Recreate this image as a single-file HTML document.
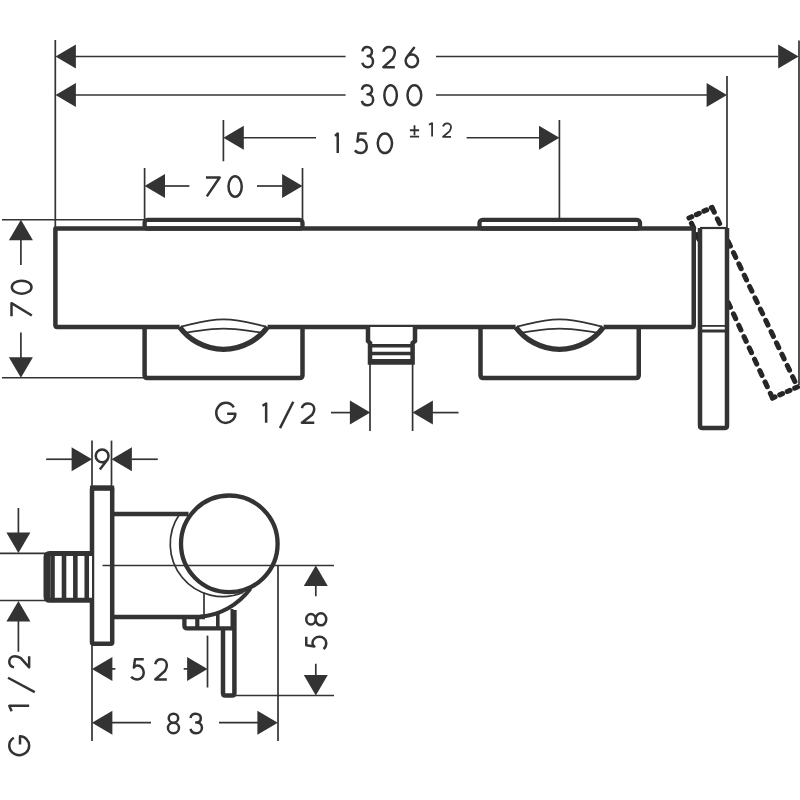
<!DOCTYPE html>
<html><head><meta charset="utf-8"><style>
html,body{margin:0;padding:0;background:#fff;width:800px;height:800px;overflow:hidden}
svg{display:block}
</style></head><body>
<svg width="800" height="800" viewBox="0 0 800 800">
<rect width="800" height="800" fill="#fff"/>
<g stroke="#333" fill="none" stroke-linecap="butt">
<line x1="55.3" y1="40" x2="55.3" y2="228" stroke-width="1.7"/>
<line x1="799" y1="40.5" x2="799" y2="385" stroke-width="1.7"/>
<line x1="727" y1="76" x2="727" y2="228" stroke-width="1.7"/>
<polygon points="55.50,56.50 75.90,44.50 75.90,68.50" fill="#333" stroke="none"/>
<polygon points="798.60,56.50 778.20,44.50 778.20,68.50" fill="#333" stroke="none"/>
<line x1="75" y1="56.5" x2="345.6" y2="56.5" stroke-width="1.7"/>
<line x1="436" y1="56.5" x2="778" y2="56.5" stroke-width="1.7"/>
<polygon points="55.50,95.00 75.90,83.00 75.90,107.00" fill="#333" stroke="none"/>
<polygon points="727.00,95.00 706.60,83.00 706.60,107.00" fill="#333" stroke="none"/>
<line x1="75" y1="95.0" x2="345.6" y2="95.0" stroke-width="1.7"/>
<line x1="436" y1="95.0" x2="707" y2="95.0" stroke-width="1.7"/>
<line x1="223.4" y1="120" x2="223.4" y2="161.25" stroke-width="1.7"/>
<line x1="559.4" y1="120" x2="559.4" y2="220" stroke-width="1.7"/>
<polygon points="223.40,137.75 243.80,125.75 243.80,149.75" fill="#333" stroke="none"/>
<polygon points="559.40,137.75 539.00,125.75 539.00,149.75" fill="#333" stroke="none"/>
<line x1="243" y1="137.75" x2="316" y2="137.75" stroke-width="1.7"/>
<line x1="466.6" y1="137.75" x2="540" y2="137.75" stroke-width="1.7"/>
<line x1="144.6" y1="168" x2="144.6" y2="220" stroke-width="1.7"/>
<line x1="302.5" y1="168" x2="302.5" y2="220" stroke-width="1.7"/>
<polygon points="144.60,186.00 165.00,174.00 165.00,198.00" fill="#333" stroke="none"/>
<polygon points="302.50,186.00 282.10,174.00 282.10,198.00" fill="#333" stroke="none"/>
<line x1="164" y1="186" x2="189.4" y2="186" stroke-width="1.7"/>
<line x1="257" y1="186" x2="283" y2="186" stroke-width="1.7"/>
<line x1="2" y1="219.75" x2="145" y2="219.75" stroke-width="1.7"/>
<line x1="2" y1="377.75" x2="145" y2="377.75" stroke-width="1.7"/>
<polygon points="20.90,219.75 8.90,240.15 32.90,240.15" fill="#333" stroke="none"/>
<polygon points="20.90,377.75 8.90,357.35 32.90,357.35" fill="#333" stroke="none"/>
<line x1="20.9" y1="239" x2="20.9" y2="265" stroke-width="1.7"/>
<line x1="20.9" y1="332.5" x2="20.9" y2="358" stroke-width="1.7"/>
<line x1="689" y1="218" x2="712" y2="207.5" stroke="#262626" stroke-width="5.1" stroke-dasharray="3 5.2" stroke-linecap="round"/>
<line x1="712" y1="207.5" x2="797.5" y2="387" stroke="#262626" stroke-width="5.1" stroke-dasharray="5.2 7.3" stroke-linecap="round"/>
<line x1="797.5" y1="387" x2="772.5" y2="398" stroke="#262626" stroke-width="5.1" stroke-dasharray="3 5.2" stroke-linecap="round"/>
<line x1="772.5" y1="398" x2="689" y2="218" stroke="#262626" stroke-width="5.1" stroke-dasharray="5.2 7.3" stroke-linecap="round"/>
<rect x="55.4" y="228.5" width="638.35" height="98.6" rx="2" fill="#fff" stroke="none"/>
<rect x="700" y="228" width="27" height="200" fill="#fff" stroke="none"/>
<path d="M700,228 L700,425.5 Q700,428 702.5,428 L724.5,428 Q727,428 727,425.5 L727,228" fill="none" stroke-width="4.5"/>
<line x1="700" y1="228" x2="727" y2="228" stroke-width="2.2"/>
<line x1="700" y1="325.9" x2="727" y2="325.9" stroke-width="1.8"/>
<line x1="700" y1="331" x2="727" y2="331" stroke-width="3"/>
<rect x="144.6" y="219.8" width="157.9" height="8.7" rx="3" fill="#fff" stroke-width="4.3"/>
<rect x="479.5" y="219.8" width="160.5" height="8.7" rx="3" fill="#fff" stroke-width="4.3"/>
<path d="M144.6,327 L144.6,375 Q144.6,378 147.6,378 L299.5,378 Q302.5,378 302.5,375 L302.5,327" fill="#fff" stroke-width="4.5"/>
<path d="M480.5,327 L480.5,375 Q480.5,378 483.5,378 L635.75,378 Q638.75,378 638.75,375 L638.75,327" fill="#fff" stroke-width="4.5"/>
<path d="M603.6,326.9 L691.75,326.9 Q693.75,326.9 693.75,324.9 L693.75,228.5 L55.4,228.5 L55.4,324.9 Q55.4,326.9 57.4,326.9 L179.6,326.9" fill="none" stroke-width="4.5" stroke-linejoin="round"/>
<line x1="267.6" y1="326.9" x2="515.6" y2="326.9" stroke-width="4.5"/>
<path d="M179.6,327 A54.5,54.5 0 0,0 267.6,327" fill="#fff" stroke-width="5.4"/>
<path d="M181.1,326.6 C192.6,324.5 204.6,319.4 223.6,319.4 C242.6,319.4 254.6,324.5 266.1,326.6" fill="none" stroke-width="1.7"/>
<path d="M185.6,332.6 C197.6,331.5 207.6,328.6 223.6,328.6 C239.6,328.6 249.6,331.5 261.6,332.6" fill="none" stroke-width="1.7"/>
<path d="M515.6,327 A54.5,54.5 0 0,0 603.6,327" fill="#fff" stroke-width="5.4"/>
<path d="M517.1,326.6 C528.6,324.5 540.6,319.4 559.6,319.4 C578.6,319.4 590.6,324.5 602.1,326.6" fill="none" stroke-width="1.7"/>
<path d="M521.6,332.6 C533.6,331.5 543.6,328.6 559.6,328.6 C575.6,328.6 585.6,331.5 597.6,332.6" fill="none" stroke-width="1.7"/>
<path d="M368,327 L368,341 L370,343 L370,362.5 L412.6,362.5 L412.6,343 L415,341 L415,327" fill="#fff" stroke-width="4.5"/>
<line x1="370" y1="345.8" x2="412.6" y2="345.8" stroke-width="3.4"/>
<line x1="370" y1="353.5" x2="412.6" y2="353.5" stroke-width="3.6"/>
<line x1="370" y1="361" x2="412.6" y2="361" stroke-width="4"/>
<line x1="370" y1="364" x2="370" y2="431" stroke-width="1.7"/>
<line x1="412.6" y1="364" x2="412.6" y2="431" stroke-width="1.7"/>
<polygon points="370.30,412.60 349.90,400.60 349.90,424.60" fill="#333" stroke="none"/>
<polygon points="412.50,412.60 432.90,400.60 432.90,424.60" fill="#333" stroke="none"/>
<line x1="331" y1="412.6" x2="350.3" y2="412.6" stroke-width="1.7"/>
<line x1="432.5" y1="412.6" x2="458.5" y2="412.6" stroke-width="1.7"/>
<line x1="92" y1="440.6" x2="92" y2="486" stroke-width="1.7"/>
<line x1="111.5" y1="440.6" x2="111.5" y2="486" stroke-width="1.7"/>
<polygon points="92.00,459.25 71.60,447.25 71.60,471.25" fill="#333" stroke="none"/>
<polygon points="111.50,459.25 131.90,447.25 131.90,471.25" fill="#333" stroke="none"/>
<line x1="46.2" y1="459.25" x2="72" y2="459.25" stroke-width="1.7"/>
<line x1="131.5" y1="459.25" x2="157.8" y2="459.25" stroke-width="1.7"/>
<rect x="92" y="487.8" width="20.2" height="155.95" rx="1.5" fill="#fff" stroke-width="4.5"/>
<line x1="90" y1="488.2" x2="114.2" y2="488.2" stroke-width="5.2"/>
<path d="M92,553.6 L49.8,553.6 Q46,553.6 46,557.4 L46,596.4 Q46,600.2 49.8,600.2 L92,600.2" fill="#fff" stroke-width="5"/>
<line x1="48.4" y1="554" x2="48.4" y2="600" stroke-width="3.2"/>
<line x1="52.5" y1="553.6" x2="52.5" y2="600.2" stroke-width="4.6"/>
<line x1="64" y1="553.6" x2="64" y2="600.2" stroke-width="4.6"/>
<line x1="75.35" y1="553.6" x2="75.35" y2="600.2" stroke-width="4.6"/>
<line x1="86.75" y1="553.6" x2="86.75" y2="600.2" stroke-width="4.6"/>
<line x1="0" y1="553.4" x2="45" y2="553.4" stroke-width="1.7"/>
<line x1="0" y1="600.5" x2="45" y2="600.5" stroke-width="1.7"/>
<line x1="18.4" y1="508" x2="18.4" y2="533" stroke-width="1.7"/>
<polygon points="18.40,553.00 6.40,532.60 30.40,532.60" fill="#333" stroke="none"/>
<polygon points="18.40,601.00 6.40,621.40 30.40,621.40" fill="#333" stroke="none"/>
<line x1="18.4" y1="620" x2="18.4" y2="651.75" stroke-width="1.7"/>
<line x1="112" y1="514" x2="188.5" y2="514" stroke-width="4.5"/>
<line x1="112" y1="617" x2="205" y2="617" stroke-width="4.5"/>
<line x1="102.5" y1="565.5" x2="334" y2="565.5" stroke-width="1.7"/>
<path d="M179.7,514 A52.5,52.5 0 0,0 243.5,592.3" fill="none" stroke-width="1.7"/>
<line x1="204" y1="592.5" x2="204" y2="615.5" stroke-width="1.7"/>
<circle cx="229.3" cy="543.8" r="48.3" fill="none" stroke-width="4.3"/>
<path d="M200,616.8 C220,615.5 238,605 250.5,588.5" fill="none" stroke-width="4"/>
<path d="M184.4,617 L184.4,625.5 Q184.4,628.3 187.2,628.3 L234.4,628.3" fill="none" stroke-width="4.3"/>
<line x1="197.3" y1="617" x2="197.3" y2="628" stroke-width="4.2"/>
<line x1="217.8" y1="613" x2="217.8" y2="628" stroke-width="3.6"/>
<line x1="232" y1="609" x2="232" y2="628" stroke-width="3"/>
<path d="M223,628 L223,693 Q223,695.6 225.5,695.6 L232,695.6 Q234.4,695.6 234.4,693 L234.4,610" fill="none" stroke-width="4.5"/>
<line x1="278" y1="565" x2="278" y2="741" stroke-width="1.7"/>
<line x1="234" y1="695.5" x2="334" y2="695.5" stroke-width="1.7"/>
<line x1="207.5" y1="635.6" x2="207.5" y2="687.5" stroke-width="1.7"/>
<line x1="92" y1="644" x2="92" y2="741" stroke-width="1.7"/>
<polygon points="315.80,565.50 303.80,585.90 327.80,585.90" fill="#333" stroke="none"/>
<line x1="315.8" y1="585" x2="315.8" y2="596.25" stroke-width="1.7"/>
<line x1="315.8" y1="663.75" x2="315.8" y2="676" stroke-width="1.7"/>
<polygon points="315.80,695.50 303.80,675.10 327.80,675.10" fill="#333" stroke="none"/>
<polygon points="92.00,668.90 112.40,656.90 112.40,680.90" fill="#333" stroke="none"/>
<line x1="112" y1="668.9" x2="115.4" y2="668.9" stroke-width="1.7"/>
<line x1="183.7" y1="668.9" x2="188" y2="668.9" stroke-width="1.7"/>
<polygon points="207.50,668.90 187.10,656.90 187.10,680.90" fill="#333" stroke="none"/>
<polygon points="92.00,722.70 112.40,710.70 112.40,734.70" fill="#333" stroke="none"/>
<line x1="112" y1="722.7" x2="151" y2="722.7" stroke-width="1.7"/>
<line x1="219" y1="722.7" x2="258" y2="722.7" stroke-width="1.7"/>
<polygon points="277.80,722.70 257.40,710.70 257.40,734.70" fill="#333" stroke="none"/>
</g>
<g fill="none" stroke="#333" stroke-linecap="butt" stroke-linejoin="round"><path d="M362.35,51.39 C362.88,48.57 364.48,46.95 367.14,46.95 C370.02,46.95 371.94,49.17 371.94,51.60 C371.94,54.22 370.34,56.04 367.68,56.04 C370.87,56.04 373.00,58.46 373.00,61.49 C373.00,64.73 370.87,67.15 367.68,67.15 C364.91,67.15 362.99,65.33 362.35,62.71" stroke-width="2.5"/>
<path d="M383.35,51.80 C384.04,48.57 386.34,46.95 389.10,46.95 C392.09,46.95 394.85,49.17 394.85,52.61 C394.85,55.03 394.05,56.85 392.90,58.67 L383.35,67.15 L394.85,67.15" stroke-width="2.5"/>
<path d="M414.58,46.95 L406.64,57.45 M411.85,54.55 C415.27,54.55 418.05,57.37 418.05,60.85 C418.05,64.33 415.27,67.15 411.85,67.15 C408.43,67.15 405.65,64.33 405.65,60.85 C405.65,57.37 408.43,54.55 411.85,54.55 Z" stroke-width="2.5"/>
<path d="M361.85,89.65 C362.42,86.85 364.11,85.25 366.94,85.25 C369.99,85.25 372.02,87.45 372.02,89.85 C372.02,92.45 370.32,94.25 367.50,94.25 C370.89,94.25 373.15,96.65 373.15,99.65 C373.15,102.85 370.89,105.25 367.50,105.25 C364.56,105.25 362.53,103.45 361.85,100.85" stroke-width="2.5"/>
<path d="M390.60,85.25 C394.05,85.25 396.85,89.73 396.85,95.25 C396.85,100.77 394.05,105.25 390.60,105.25 C387.15,105.25 384.35,100.77 384.35,95.25 C384.35,89.73 387.15,85.25 390.60,85.25 Z" stroke-width="2.5"/>
<path d="M414.38,85.25 C418.17,85.25 421.25,89.73 421.25,95.25 C421.25,100.77 418.17,105.25 414.38,105.25 C410.58,105.25 407.50,100.77 407.50,95.25 C407.50,89.73 410.58,85.25 414.38,85.25 Z" stroke-width="2.5"/>
<path d="M335.05,135.89 L337.75,133.55 L337.75,153.05" stroke-width="2.5"/>
<path d="M366.75,133.55 L358.49,133.55 L357.43,141.55 C358.25,140.18 359.43,139.59 360.85,139.59 C364.15,139.59 366.75,142.52 366.75,146.42 C366.75,150.12 364.15,153.05 360.85,153.05 C358.49,153.05 356.13,152.08 354.95,150.32" stroke-width="2.5"/>
<path d="M384.90,133.55 C388.85,133.55 392.05,137.92 392.05,143.30 C392.05,148.68 388.85,153.05 384.90,153.05 C380.95,153.05 377.75,148.68 377.75,143.30 C377.75,137.92 380.95,133.55 384.90,133.55 Z" stroke-width="2.5"/>
<path d="M409.90,130.23 L419.10,130.23 M414.50,125.15 L414.50,135.31 M409.90,136.70 L419.10,136.70" stroke-width="1.8"/>
<path d="M428.90,124.72 L432.10,123.10 L432.10,136.60" stroke-width="1.8"/>
<path d="M443.10,126.54 C443.57,124.38 445.15,123.30 447.05,123.30 C449.10,123.30 451.00,124.79 451.00,127.08 C451.00,128.70 450.45,129.91 449.66,131.13 L443.10,136.80 L451.00,136.80" stroke-width="1.8"/>
<path d="M206.00,177.50 L219.65,177.50 L206.82,196.35" stroke-width="2.5"/>
<path d="M235.12,176.35 C238.78,176.35 241.75,180.92 241.75,186.55 C241.75,192.18 238.78,196.75 235.12,196.75 C231.47,196.75 228.50,192.18 228.50,186.55 C228.50,180.92 231.47,176.35 235.12,176.35 Z" stroke-width="2.5"/>
<path d="M11.85,287.20 C11.85,283.58 16.25,280.65 21.67,280.65 C27.10,280.65 31.50,283.58 31.50,287.20 C31.50,290.82 27.10,293.75 21.67,293.75 C16.25,293.75 11.85,290.82 11.85,287.20 Z" stroke-width="2.5"/>
<path d="M11.50,316.25 L11.50,303.15 L31.85,315.46" stroke-width="2.5"/>
<path d="M233.82,407.47 C232.08,404.62 229.03,402.85 225.80,402.85 C220.53,402.85 216.25,407.35 216.25,412.90 C216.25,418.45 220.53,422.95 225.80,422.95 C231.07,422.95 235.35,418.73 235.35,413.70 L227.14,413.70" stroke-width="2.5"/>
<path d="M262.50,405.82 L266.15,403.50 L266.15,422.85" stroke-width="2.5"/>
<path d="M280.00,428.15 L293.25,401.75" stroke-width="2.5"/>
<path d="M301.85,408.14 C302.59,405.05 305.07,403.50 308.05,403.50 C311.27,403.50 314.25,405.63 314.25,408.92 C314.25,411.24 313.38,412.98 312.14,414.72 L301.85,422.85 L314.25,422.85" stroke-width="2.5"/>
<path d="M102.12,449.50 C105.65,449.50 108.50,452.37 108.50,455.90 C108.50,459.43 105.65,462.30 102.12,462.30 C98.60,462.30 95.75,459.43 95.75,455.90 C95.75,452.37 98.60,449.50 102.12,449.50 Z M107.99,459.10 L99.83,469.50" stroke-width="2.5"/>
<path d="M13.83,737.76 C11.00,739.48 9.25,742.51 9.25,745.70 C9.25,750.92 13.71,755.15 19.20,755.15 C24.69,755.15 29.15,750.92 29.15,745.70 C29.15,740.48 24.97,736.25 20.00,736.25 L20.00,744.38" stroke-width="2.5"/>
<path d="M11.64,711.25 L9.25,705.85 L29.15,705.85" stroke-width="2.5"/>
<path d="M34.75,692.15 L8.00,677.75" stroke-width="2.5"/>
<path d="M14.03,667.35 C10.84,666.68 9.25,664.46 9.25,661.80 C9.25,658.91 11.44,656.25 14.82,656.25 C17.21,656.25 19.00,657.03 20.79,658.14 L29.15,667.35 L29.15,656.25" stroke-width="2.5"/>
<path d="M306.25,636.85 L306.25,645.36 L314.45,646.45 C313.05,645.60 312.45,644.38 312.45,642.92 C312.45,639.52 315.45,636.85 319.45,636.85 C323.25,636.85 326.25,639.52 326.25,642.92 C326.25,645.36 325.25,647.78 323.45,649.00" stroke-width="2.5"/>
<path d="M306.25,619.30 C306.25,616.43 308.35,614.10 310.95,614.10 C313.55,614.10 315.65,616.43 315.65,619.30 C315.65,622.17 313.55,624.50 310.95,624.50 C308.35,624.50 306.25,622.17 306.25,619.30 Z M315.65,619.30 C315.65,615.96 318.02,613.25 320.95,613.25 C323.88,613.25 326.25,615.96 326.25,619.30 C326.25,622.64 323.88,625.35 320.95,625.35 C318.02,625.35 315.65,622.64 315.65,619.30 Z" stroke-width="2.5"/>
<path d="M143.75,659.35 L135.00,659.35 L133.88,667.59 C134.75,666.18 136.00,665.58 137.50,665.58 C141.00,665.58 143.75,668.60 143.75,672.62 C143.75,676.44 141.00,679.45 137.50,679.45 C135.00,679.45 132.50,678.45 131.25,676.64" stroke-width="2.5"/>
<path d="M155.25,664.17 C155.95,660.96 158.27,659.35 161.05,659.35 C164.07,659.35 166.85,661.56 166.85,664.98 C166.85,667.39 166.04,669.20 164.88,671.01 L155.25,679.45 L166.85,679.45" stroke-width="2.5"/>
<path d="M173.45,713.65 C176.06,713.65 178.18,715.70 178.18,718.23 C178.18,720.76 176.06,722.81 173.45,722.81 C170.84,722.81 168.72,720.76 168.72,718.23 C168.72,715.70 170.84,713.65 173.45,713.65 Z M173.45,722.81 C176.49,722.81 178.95,725.13 178.95,727.98 C178.95,730.84 176.49,733.15 173.45,733.15 C170.41,733.15 167.95,730.84 167.95,727.98 C167.95,725.13 170.41,722.81 173.45,722.81 Z" stroke-width="2.5"/>
<path d="M190.45,717.94 C191.02,715.21 192.75,713.65 195.62,713.65 C198.73,713.65 200.80,715.79 200.80,718.13 C200.80,720.67 199.07,722.42 196.20,722.42 C199.65,722.42 201.95,724.76 201.95,727.69 C201.95,730.81 199.65,733.15 196.20,733.15 C193.21,733.15 191.14,731.39 190.45,728.86" stroke-width="2.5"/></g>
</svg>
</body></html>
